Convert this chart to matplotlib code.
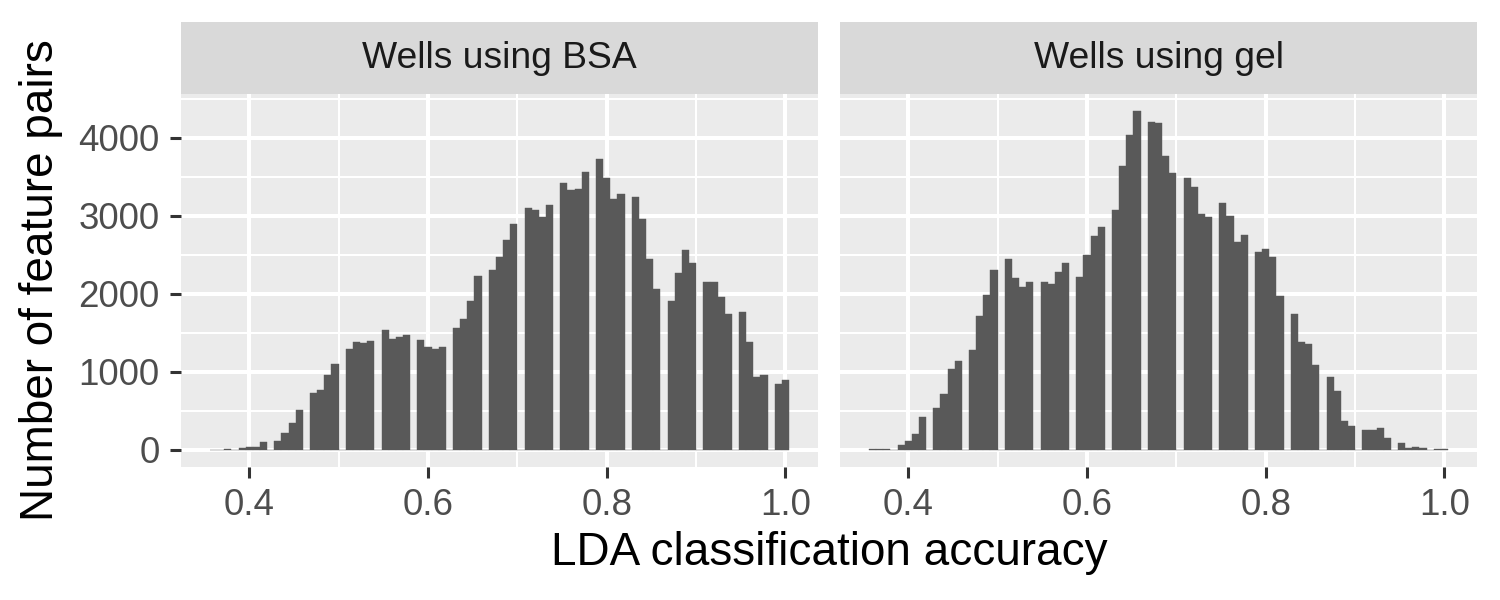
import numpy as np
import matplotlib
matplotlib.use("Agg")
import matplotlib.pyplot as plt

plt.rcParams["font.family"] = ["Liberation Sans", "DejaVu Sans"]

# histogram bins: width 0.008, first bin centred on 0.36
BIN_WIDTH = 0.008
FIRST_CENTER = 0.36

panel_titles = ["Wells using BSA", "Wells using gel"]

bsa_counts = [
    0, 0, 15, 0, 20, 30, 40, 98, 0, 111, 214, 342, 509, 0,
    726, 765, 957, 1098, 0, 1291, 1380, 1368, 1393, 0,
    1534, 1419, 1444, 1470, 0, 1406, 1316, 1291, 1316, 0,
    1560, 1675, 1906, 2226, 0, 2303, 2470, 2688, 2893, 0,
    3098, 3073, 2983, 3137, 0, 3419, 3329, 3342, 3560, 0,
    3726, 3483, 3214, 3278, 0, 3239, 2957, 2444, 2060, 0,
    1906, 2265, 2560, 2393, 0, 2150, 2150, 1957, 1739, 0,
    1765, 1380, 932, 957, 0, 842, 893,
]

gel_counts = [
    10, 10, 10, 0, 60, 111, 200, 419, 0, 534, 714, 1034, 1137, 0,
    1278, 1714, 1983, 2303, 0, 2444, 2201, 2085, 2150, 0,
    2150, 2124, 2278, 2393, 0, 2214, 2496, 2739, 2855, 0,
    3073, 3637, 4034, 4342, 0, 4201, 4188, 3765, 3547, 0,
    3483, 3368, 3021, 2983, 0, 3162, 2996, 2662, 2752, 0,
    2534, 2573, 2470, 1970, 0, 1739, 1380, 1355, 1085, 0,
    932, 752, 368, 303, 0, 252, 252, 278, 150, 0,
    85, 21, 34, 21, 0, 13, 13,
]

x_ticks = [0.4, 0.6, 0.8, 1.0]
x_minor = [0.5, 0.7, 0.9]
y_ticks = [0, 1000, 2000, 3000, 4000]
y_minor = [500, 1500, 2500, 3500, 4500]

PANEL_BG = "#EBEBEB"
STRIP_BG = "#D9D9D9"
BAR = "#595959"

W, H = 1500, 600
fig = plt.figure(figsize=(15, 6), dpi=100)

centers = FIRST_CENTER + BIN_WIDTH * np.arange(len(bsa_counts))
lo, hi = centers[0] - BIN_WIDTH / 2, centers[-1] + BIN_WIDTH / 2
xpad = (hi - lo) * 0.05
ymax = max(max(bsa_counts), max(gel_counts))

panel_top, panel_bot = 94, 466.7
strip_top = 22
lefts = [181, 840]
width_px = 637

for i, (title, counts) in enumerate(zip(panel_titles, [bsa_counts, gel_counts])):
    x0 = lefts[i]
    ax = fig.add_axes([x0 / W, 1 - panel_bot / H, width_px / W, (panel_bot - panel_top) / H])
    ax.set_facecolor(PANEL_BG)
    for s in ax.spines.values():
        s.set_visible(False)

    # ggplot-style grid: thin minor, thicker major
    for v in x_minor:
        ax.axvline(v, color="white", lw=1.5, zorder=0)
    for v in y_minor:
        ax.axhline(v, color="white", lw=1.5, zorder=0)
    for v in x_ticks:
        ax.axvline(v, color="white", lw=2.9, zorder=0)
    for v in y_ticks:
        ax.axhline(v, color="white", lw=2.9, zorder=0)

    ax.bar(centers, counts, width=BIN_WIDTH, color=BAR, edgecolor=BAR,
           linewidth=0.3, zorder=2)

    ax.set_xlim(lo - xpad, hi + xpad)
    ax.set_ylim(-ymax * 0.05, ymax * 1.05)
    ax.set_xticks(x_ticks)
    ax.set_xticklabels([f"{v:.1f}" for v in x_ticks])
    ax.set_yticks(y_ticks)
    if i == 0:
        ax.set_yticklabels([str(v) for v in y_ticks])
        ax.tick_params(axis="y", length=8, width=2.2, color="#333333",
                       labelsize=26.5, labelcolor="#4D4D4D", pad=7.5)
    else:
        ax.tick_params(axis="y", length=0, labelleft=False)
    ax.tick_params(axis="x", length=8, width=2.2, color="#333333",
                   labelsize=26.5, labelcolor="#4D4D4D", pad=7)

    sax = fig.add_axes([x0 / W, 1 - panel_top / H, width_px / W, (panel_top - strip_top) / H])
    sax.set_facecolor(STRIP_BG)
    sax.set_xticks([])
    sax.set_yticks([])
    for s in sax.spines.values():
        s.set_visible(False)
    sax.text(0.5, 0.5, title, ha="center", va="center", fontsize=26.8,
             color="#1A1A1A", transform=sax.transAxes)

fig.text(829 / W, 1 - 553 / H, "LDA classification accuracy", ha="center",
         va="center", fontsize=33, color="black")
fig.text(41 / W, 1 - 280 / H, "Number of feature pairs", ha="center",
         va="center", rotation=90, fontsize=33, color="black")

fig.savefig("out.png", dpi=100, facecolor="white")
